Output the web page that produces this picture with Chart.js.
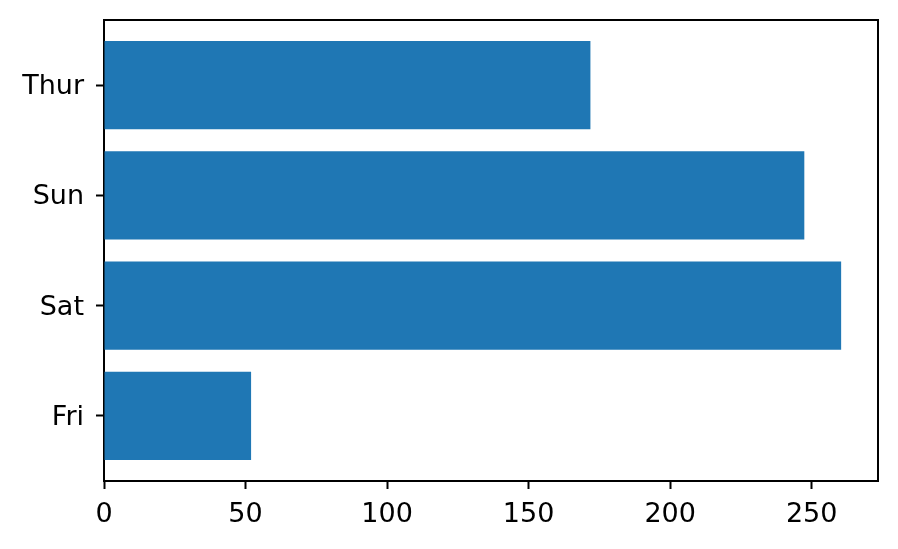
<!DOCTYPE html>
<html>
<head>
<meta charset="utf-8">
<script src="https://cdn.jsdelivr.net/npm/chart.js@4"></script>
<style>
  html, body { margin: 0; padding: 0; background: #ffffff; }
  #wrap { width: 898px; height: 549px; position: relative; }
</style>
</head>
<body>
<div id="wrap"><canvas id="c" width="898" height="549"></canvas></div>
<script>
const categories = ['Fri', 'Sat', 'Sun', 'Thur'];
const tipTotals = [51.96, 260.40, 247.39, 171.83];
const xTicks = [0, 50, 100, 150, 200, 250];

const frame = {
  id: 'frame',
  afterDatasetsDraw(chart) {
    const a = chart.chartArea, ctx = chart.ctx;
    ctx.save();
    ctx.strokeStyle = '#000';
    ctx.lineWidth = 2;
    ctx.beginPath();
    ctx.moveTo(a.left, a.top);
    ctx.lineTo(a.right, a.top);
    ctx.lineTo(a.right, a.bottom);
    ctx.stroke();
    ctx.restore();
  }
};

const points = categories.map((c, i) => ({ x: tipTotals[i], y: i }));

new Chart(document.getElementById('c'), {
  type: 'bar',
  data: {
    datasets: [{
      data: points,
      backgroundColor: '#1f77b4',
      borderWidth: 0,
      barPercentage: 0.8,
      categoryPercentage: 1.0
    }]
  },
  options: {
    indexAxis: 'y',
    responsive: false,
    animation: false,
    layout: { padding: { top: 20, right: 20, left: 0, bottom: 0 } },
    plugins: { legend: { display: false }, tooltip: { enabled: false } },
    scales: {
      x: {
        type: 'linear',
        min: 0,
        max: 273.42,
        afterBuildTicks: (axis) => { axis.ticks = xTicks.map(v => ({ value: v })); },
        afterFit: (axis) => { axis.height = 68; axis.paddingLeft = 0; axis.paddingRight = 0; },
        grid: { drawOnChartArea: false, drawTicks: true, tickLength: 8, tickWidth: 2, tickColor: '#000' },
        border: { display: true, color: '#000', width: 2 },
        ticks: { color: '#000', padding: 10, maxRotation: 0, font: { family: 'DejaVu Sans', size: 27 } }
      },
      y: {
        type: 'linear',
        min: -0.59,
        max: 3.59,
        offset: false,
        afterBuildTicks: (axis) => { axis.ticks = categories.map((_, i) => ({ value: i })); },
        afterFit: (axis) => { axis.width = 104; axis.paddingTop = 0; axis.paddingBottom = 0; },
        grid: { offset: false, drawOnChartArea: false, drawTicks: true, tickLength: 8, tickWidth: 2, tickColor: '#000' },
        border: { display: true, color: '#000', width: 2 },
        ticks: {
          color: '#000', padding: 12, labelOffset: 2,
          font: { family: 'DejaVu Sans', size: 27 },
          callback: (v) => categories[v]
        }
      }
    }
  },
  plugins: [frame]
});
</script>
</body>
</html>
